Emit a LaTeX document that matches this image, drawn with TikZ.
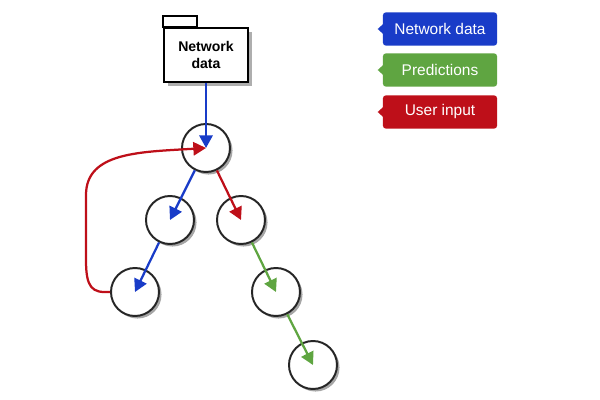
\documentclass[tikz,border=0pt]{standalone}
\usepackage{fontspec}
\setmainfont{Liberation Sans}
\usetikzlibrary{arrows.meta,shadows}

\definecolor{netblue}{RGB}{25,60,200}
\definecolor{predgreen}{RGB}{95,165,65}
\definecolor{userred}{RGB}{190,15,25}

\tikzset{
  state/.style={circle, draw=black!85, line width=1.4pt, fill=white,
    minimum size=1.2cm,
    drop shadow={shadow xshift=1.8pt, shadow yshift=-1.8pt, fill=black!50, opacity=0.7}},
  folder/.style={rectangle, draw, line width=1.1pt, fill=white,
    minimum width=2.1cm, minimum height=1.35cm, align=center,
    font=\bfseries\fontsize{10}{12.5}\selectfont,
    drop shadow={shadow xshift=2.5pt, shadow yshift=-2.5pt, fill=black!45, opacity=0.7}},
  legbox/.style={rectangle, rounded corners=2pt, text=white,
    minimum width=2.85cm, minimum height=0.83cm,
    font=\fontsize{11}{13}\selectfont},
  flow/.style={line width=1.6pt, -{Triangle[length=9pt,width=9.5pt]}},
}

\begin{document}
\begin{tikzpicture}[x=0.025cm, y=-0.025cm]
   \useasboundingbox (0,0) rectangle (600,400);
   % source folder
   \node[folder] (src) at (206,55) {Network\\data};
   \draw[fill=white, line width=1.1pt] (src.north west) rectangle ++(34,-11);
   % states
   \node[state] (root) at (206,148) {};
   \node[state] (lc)   at (170,220) {};
   \node[state] (rc)   at (241,220) {};
   \node[state] (llc)  at (135,292) {};
   \node[state] (rrc)  at (276,292) {};
   \node[state] (leaf) at (313,365) {};
   % flows
   \draw[flow, netblue]   (src) -- (root.center);
   \draw[flow, netblue]   (root) -- (lc.center);
   \draw[flow, userred]   (root) -- (rc.center);
   \draw[flow, netblue]   (lc) -- (llc.center);
   \draw[flow, predgreen] (rc) -- (rrc.center);
   \draw[flow, predgreen] (rrc) -- (leaf.center);
   \draw[flow, userred]   (llc.west) .. controls (92,293) and (86,288) .. (86,260)
      -- (86,195) .. controls (86,152) and (140,152) .. (root.center);
   % legend
   \node[legbox, fill=netblue]   (lnet)  at (440,29)  {Network data};
   \node[legbox, fill=predgreen] (lpred) at (440,70)  {Predictions};
   \node[legbox, fill=userred]   (luser) at (440,112) {User input};
   \foreach \n/\c in {lnet/netblue, lpred/predgreen, luser/userred}
      \fill[\c] (\n.west) ++(0.5,-5) -- ++(-5.5,5) -- ++(5.5,5) -- cycle;
\end{tikzpicture}
\end{document}
